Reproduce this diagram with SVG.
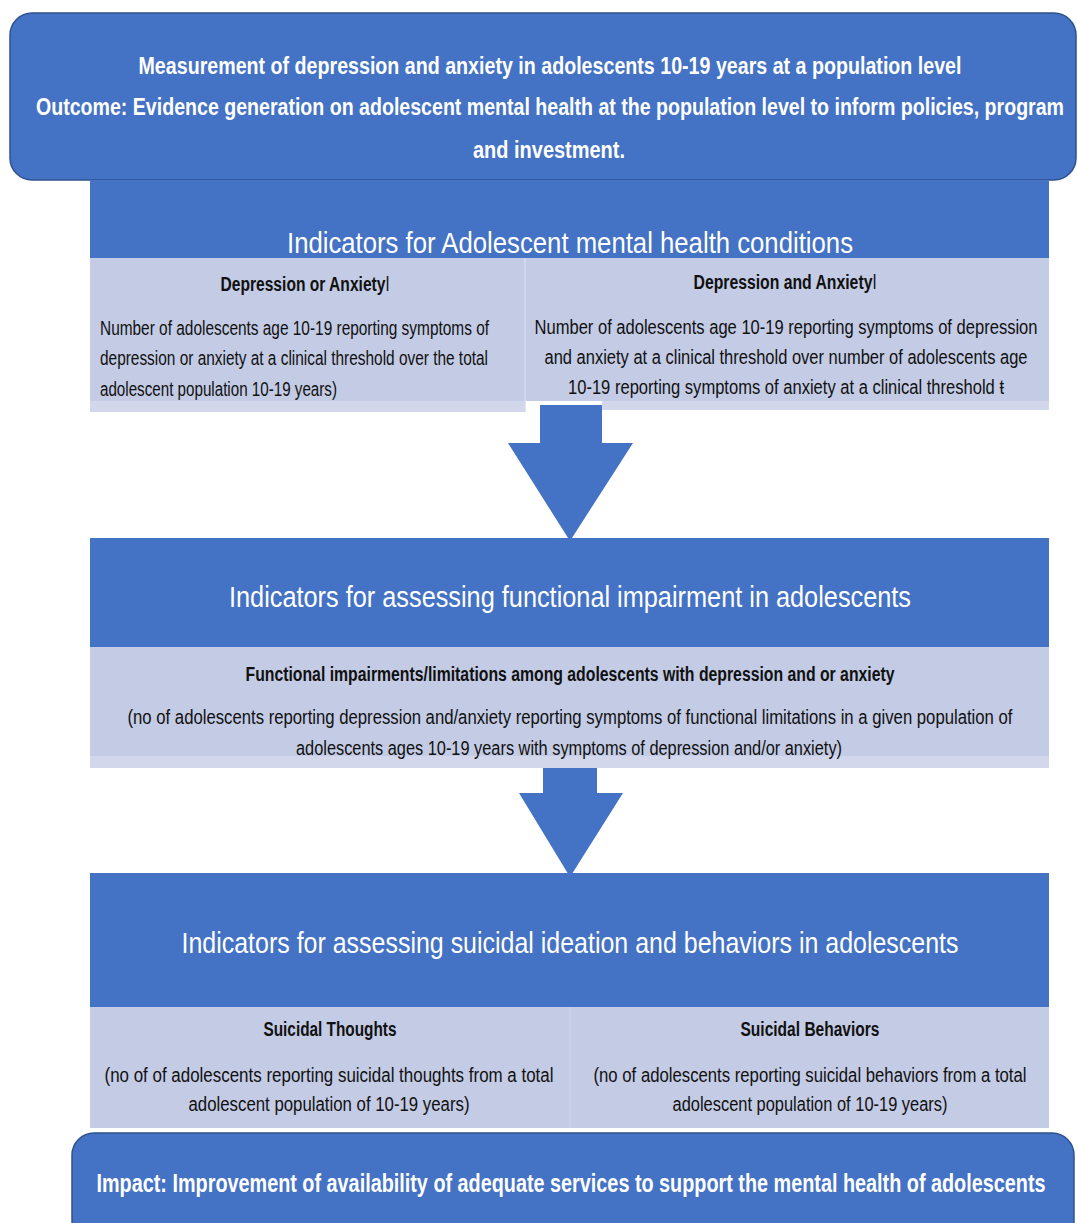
<svg xmlns="http://www.w3.org/2000/svg" width="1078" height="1223" viewBox="0 0 1078 1223">
<style>
text{font-family:"Liberation Sans",Arial,sans-serif;text-anchor:middle}
.s{text-anchor:start}
.w{fill:#fff}
.k{fill:#111}
.b{font-weight:bold}
.t{font-size:30px}
.hd{font-size:20px;font-weight:bold}
.bd{font-size:20px}
.dark{fill:#4472C4}
.light{fill:#C3CBE5}
.strip{fill:#D2D7EC}
</style>
<rect width="1078" height="1223" fill="#fff"/>
<g id="top">
<rect x="10" y="13" width="1066" height="167" rx="22" fill="#4472C4" stroke="#2F528F" stroke-width="1.5"/>
<text class="w b" x="550" y="74" font-size="23" textLength="823" lengthAdjust="spacingAndGlyphs">Measurement of depression and anxiety in adolescents 10-19  years at a population level</text>
<text class="w b" x="550" y="115" font-size="23" textLength="1028" lengthAdjust="spacingAndGlyphs">Outcome: Evidence generation on adolescent mental health at the population level to inform policies, program</text>
<text class="w b" x="549" y="158" font-size="23" textLength="152" lengthAdjust="spacingAndGlyphs">and investment.</text>
</g>
<g id="connectors">
<path class="dark" d="M540 405 H602 V443 H633 L570 541 L508 443 H540 Z"/>
<path class="dark" d="M543 762 H597 V793 H623 L570 877 L519 793 H543 Z"/>
</g>
<g id="box1">
<rect class="dark" x="90" y="180" width="959" height="78"/>
<text class="w t" x="570" y="253" textLength="566" lengthAdjust="spacingAndGlyphs">Indicators for Adolescent mental health conditions</text>
<rect class="light" x="90" y="258" width="435" height="143"/>
<rect class="strip" x="90" y="401" width="435" height="11"/>
<rect class="light" x="525" y="258" width="524" height="143"/>
<rect class="strip" x="602" y="401" width="447" height="9"/>
<line x1="525" y1="258" x2="525" y2="412" stroke="#D6DBEE" stroke-width="1.5"/>
</g>
<g id="n-dep-or-anx">
<text class="k hd" x="305" y="291" textLength="169" lengthAdjust="spacingAndGlyphs">Depression or Anxiety<tspan font-weight="normal">ǀ</tspan></text>
<text class="k bd s" x="100" y="335" textLength="389" lengthAdjust="spacingAndGlyphs">Number of adolescents age 10-19 reporting  symptoms of</text>
<text class="k bd s" x="100" y="365" textLength="388" lengthAdjust="spacingAndGlyphs">depression or anxiety at a clinical threshold over the total</text>
<text class="k bd s" x="100" y="396" textLength="237" lengthAdjust="spacingAndGlyphs">adolescent population 10-19 years)</text>
</g>
<g id="n-dep-and-anx">
<text class="k hd" x="785" y="289" textLength="183" lengthAdjust="spacingAndGlyphs">Depression and Anxiety<tspan font-weight="normal">ǀ</tspan></text>
<text class="k bd" x="786" y="334" textLength="503" lengthAdjust="spacingAndGlyphs">Number  of adolescents age 10-19 reporting   symptoms  of depression</text>
<text class="k bd" x="786" y="364" textLength="483" lengthAdjust="spacingAndGlyphs">and anxiety at a clinical threshold over  number  of adolescents age</text>
<text class="k bd" x="786" y="394" textLength="436" lengthAdjust="spacingAndGlyphs">10-19 reporting  symptoms  of anxiety at a clinical threshold ŧ</text>
</g>
<g id="box2">
<rect class="dark" x="90" y="538" width="959" height="109"/>
<text class="w t" x="570" y="607" textLength="682" lengthAdjust="spacingAndGlyphs">Indicators for assessing functional impairment in adolescents</text>
<rect class="light" x="90" y="647" width="959" height="109"/>
<rect class="strip" x="90" y="756" width="959" height="12"/>
<text class="k hd" x="570" y="681" textLength="649" lengthAdjust="spacingAndGlyphs">Functional impairments/limitations among adolescents with depression and or anxiety</text>
<text class="k bd" x="570" y="724" textLength="885" lengthAdjust="spacingAndGlyphs">(no of adolescents reporting  depression and/anxiety reporting  symptoms of functional limitations in a given population of</text>
<text class="k bd" x="569" y="755" textLength="546" lengthAdjust="spacingAndGlyphs">adolescents ages 10-19 years with symptoms of depression and/or anxiety)</text>
</g>
<g id="box3">
<rect class="dark" x="90" y="873" width="959" height="134"/>
<text class="w t" x="570" y="953" textLength="777" lengthAdjust="spacingAndGlyphs">Indicators for assessing suicidal ideation and behaviors in adolescents</text>
<rect class="light" x="90" y="1007" width="480" height="121"/>
<rect class="light" x="570" y="1007" width="479" height="121"/>
<line x1="570" y1="1007" x2="570" y2="1128" stroke="#CDD3EB" stroke-width="1.5"/>
<text class="k hd" x="330" y="1036" textLength="133" lengthAdjust="spacingAndGlyphs">Suicidal Thoughts</text>
<text class="k bd" x="329" y="1082" textLength="449" lengthAdjust="spacingAndGlyphs">(no of of  adolescents reporting  suicidal thoughts from  a total</text>
<text class="k bd" x="329" y="1111" textLength="281" lengthAdjust="spacingAndGlyphs">adolescent population  of 10-19 years)</text>
<text class="k hd" x="810" y="1036" textLength="139" lengthAdjust="spacingAndGlyphs">Suicidal Behaviors</text>
<text class="k bd" x="810" y="1082" textLength="433" lengthAdjust="spacingAndGlyphs">(no of  adolescents reporting  suicidal behaviors from  a total</text>
<text class="k bd" x="810" y="1111" textLength="275" lengthAdjust="spacingAndGlyphs">adolescent population  of 10-19 years)</text>
</g>
<g id="impact">
<rect x="72" y="1133" width="1002" height="110" rx="22" fill="#4472C4" stroke="#2F528F" stroke-width="1.5"/>
<text class="w b" x="571" y="1192" font-size="25" textLength="949" lengthAdjust="spacingAndGlyphs">Impact:  Improvement of availability of adequate services to support the mental health of adolescents</text>
</g>
</svg>
